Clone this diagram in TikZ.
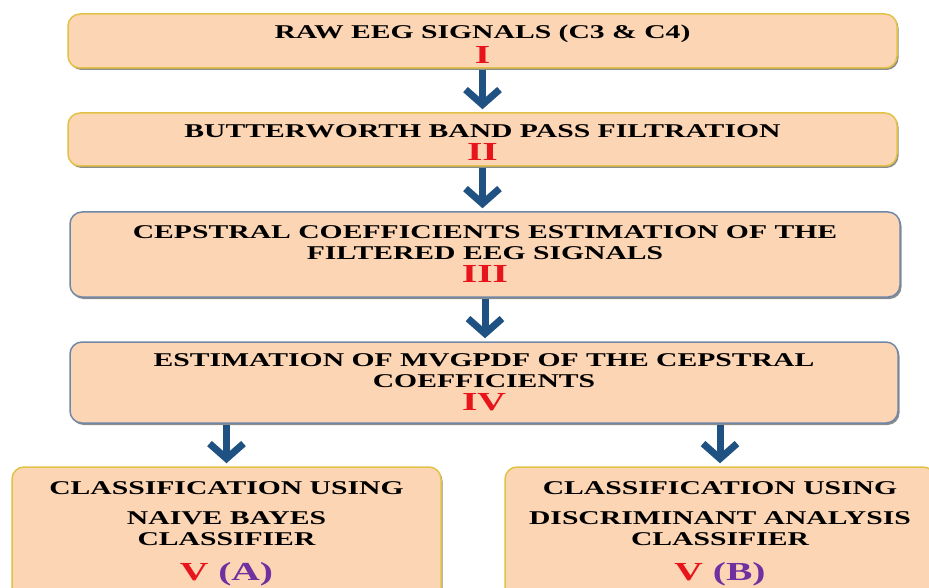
\documentclass[tikz,border=0pt]{standalone}
\usepackage{fontspec}
\setmainfont{Liberation Serif}[FakeStretch=1.52]
\usetikzlibrary{arrows.meta,shadows}
\definecolor{peach}{HTML}{FCD5B5}
\definecolor{goldline}{HTML}{E2C246}
\definecolor{slateline}{HTML}{7088A6}
\definecolor{flowblue}{HTML}{1F5283}
\definecolor{numred}{HTML}{E8141B}
\definecolor{numpurple}{HTML}{7030A0}
\newcommand{\stagenum}[1]{{\fontsize{26}{25}\selectfont\color{numred}#1}}
\begin{document}
\begin{tikzpicture}[x=1pt,y=-1pt,
  stagebox/.style={draw=goldline,line width=1.5pt,fill=peach,rounded corners=12pt,
    drop shadow={shadow xshift=1.5pt,shadow yshift=-2pt,opacity=.75,fill=black!60},
    align=center,font=\fontsize{19.5}{21}\selectfont\bfseries,inner sep=0pt},
  slatebox/.style={stagebox,draw=slateline},
  flow/.style={draw=flowblue,line width=7pt,-{Straight Barb[length=15pt,width=34pt]},shorten <=1pt,shorten >=3pt}]
\useasboundingbox (0,0) rectangle (929,588);
\node[stagebox,minimum width=829pt,minimum height=54pt] (raw) at (482.5,41) {\rule{0pt}{20pt}RAW EEG SIGNALS (C3 \& C4)\\[2pt]\stagenum{I}};
\node[stagebox,minimum width=829pt,minimum height=53pt] (filt) at (482.5,139.5) {\rule{0pt}{19pt}BUTTERWORTH BAND PASS FILTRATION\\[2pt]\stagenum{II}};
\node[slatebox,minimum width=830pt,minimum height=85pt] (ceps) at (485,254.5) {CEPSTRAL COEFFICIENTS ESTIMATION OF THE\\FILTERED EEG SIGNALS\\[2pt]\stagenum{III}};
\node[slatebox,minimum width=828pt,minimum height=81pt] (mvg) at (484,382.5) {ESTIMATION OF MVGPDF OF THE CEPSTRAL\\COEFFICIENTS\\[2pt]\stagenum{IV}};
\node[stagebox,minimum width=429pt,minimum height=138pt] (nbc) at (226.5,536) {CLASSIFICATION USING\\[9pt]NAIVE BAYES\\CLASSIFIER\\[14pt]\stagenum{V {\color{numpurple}(A)}}\rule[-9pt]{0pt}{0pt}};
\node[stagebox,minimum width=430pt,minimum height=138pt] (dac) at (720,536) {CLASSIFICATION USING\\[9pt]DISCRIMINANT ANALYSIS\\CLASSIFIER\\[14pt]\stagenum{V {\color{numpurple}(B)}}\rule[-9pt]{0pt}{0pt}};
\draw[flow] (raw.south) -- (filt.north);
\draw[flow] (filt.south) -- (ceps.north -| filt.south);
\draw[flow] (ceps.south) -- (ceps.south |- mvg.north);
\draw[flow] (mvg.south -| nbc.north) -- (nbc.north);
\draw[flow] (mvg.south -| dac.north) -- (dac.north);
\end{tikzpicture}
\end{document}
